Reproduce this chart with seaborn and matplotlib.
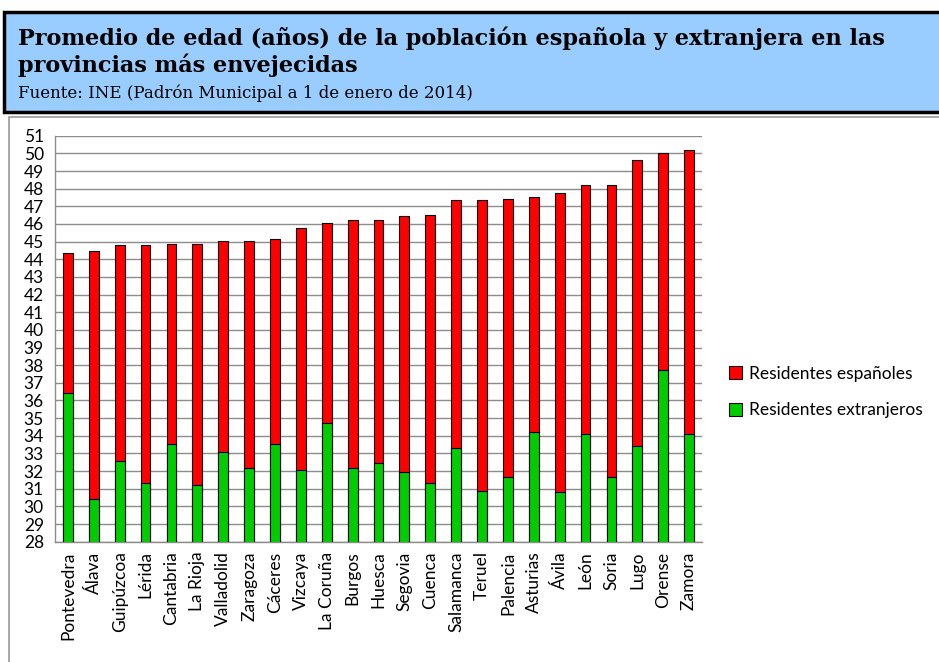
import numpy as np
import pandas as pd
import seaborn as sns
import matplotlib.pyplot as plt
from matplotlib.patches import Rectangle
from matplotlib.ticker import MultipleLocator

# Datos (edad media en años)
provincias = ["Pontevedra", "Álava", "Guipúzcoa", "Lérida", "Cantabria", "La Rioja",
              "Valladolid", "Zaragoza", "Cáceres", "Vizcaya", "La Coruña", "Burgos",
              "Huesca", "Segovia", "Cuenca", "Salamanca", "Teruel", "Palencia",
              "Asturias", "Ávila", "León", "Soria", "Lugo", "Orense", "Zamora"]
espanoles = [44.36, 44.44, 44.78, 44.78, 44.86, 44.86, 45.05, 45.05, 45.14, 45.77,
             46.03, 46.24, 46.24, 46.45, 46.53, 47.36, 47.34, 47.44, 47.50, 47.78,
             48.18, 48.18, 49.64, 50.00, 50.19]
extranjeros = [36.45, 30.41, 32.57, 31.32, 33.54, 31.19, 33.07, 32.16, 33.54, 32.08,
               34.72, 32.16, 32.44, 31.95, 31.32, 33.33, 30.90, 31.66, 34.23, 30.83,
               34.11, 31.66, 33.41, 37.70, 34.11]
series = ["Residentes españoles", "Residentes extranjeros"]
colores = ["#FF0000", "#00CC00"]

df = pd.DataFrame({
    "provincia": provincias * 2,
    "edad": espanoles + extranjeros,
    "serie": [series[0]] * len(provincias) + [series[1]] * len(provincias),
})

sns.set_style("white")
plt.rcParams['font.family'] = ['Lato', 'DejaVu Sans']
plt.rcParams['text.color'] = 'black'

fig = plt.figure(figsize=(9.39, 6.62), dpi=100)

# caja del titulo
fig.patches.append(Rectangle((4 / 939, 1 - 112 / 662), 940 / 939, 100 / 662,
                             transform=fig.transFigure, facecolor="#99CCFF",
                             edgecolor="black", linewidth=2.5, zorder=-2))
# marco del grafico
fig.patches.append(Rectangle((9 / 939, -0.01), 935 / 939, 1 - 117 / 662 + 0.01,
                             transform=fig.transFigure, facecolor="white",
                             edgecolor="#999999", linewidth=1.2, zorder=-2))

fig.text(18 / 939, 1 - 45 / 662,
         "Promedio de edad (años) de la población española y extranjera en las",
         family="DejaVu Serif", weight="bold", fontsize=16.1, va="baseline")
fig.text(18 / 939, 1 - 72 / 662, "provincias más envejecidas",
         family="DejaVu Serif", weight="bold", fontsize=16.1, va="baseline")
fig.text(18 / 939, 1 - 98 / 662, "Fuente: INE (Padrón Municipal a 1 de enero de 2014)",
         family="DejaVu Serif", fontsize=12, va="baseline")

ax = fig.add_axes([55 / 939, 1 - 541.7 / 662, 647 / 939, (541.7 - 135.7) / 662])
ax.set_zorder(2)
sns.barplot(data=df, x="provincia", y="edad", hue="serie", palette=colores,
            saturation=1, dodge=False, width=0.38, edgecolor="black", linewidth=0.8,
            ax=ax, zorder=3)

ax.set_ylim(28, 51)
ax.yaxis.set_major_locator(MultipleLocator(1))
ax.grid(axis="y", color="#8c8c8c", linewidth=1.0, zorder=0)
ax.set_axisbelow(True)
ax.set_xlabel("")
ax.set_ylabel("")
for s in ["top", "right"]:
    ax.spines[s].set_visible(False)
for s in ["left", "bottom"]:
    ax.spines[s].set_color("#8c8c8c")
    ax.spines[s].set_linewidth(1.0)

ax.set_xticks(range(len(provincias)))
ax.set_xticklabels(provincias, rotation=90, fontsize=12.5, color="black")
ax.set_xticks(np.arange(-0.5, len(provincias), 1), minor=True)
ax.tick_params(axis="x", which="major", length=0, pad=7)
ax.tick_params(axis="x", which="minor", length=5, color="#8c8c8c", direction="out")
ax.tick_params(axis="y", length=5, color="#8c8c8c", direction="out", labelsize=12.5,
               labelcolor="black", pad=3)
ax.set_xlim(-0.5, len(provincias) - 0.5)

handles, labels = ax.get_legend_handles_labels()
ax.legend(handles, labels, loc="center left", bbox_to_anchor=(713 / 939, 1 - 392 / 662),
          bbox_transform=fig.transFigure, frameon=False, fontsize=12.5,
          handlelength=0.75, handleheight=0.75, handletextpad=0.45, labelspacing=1.2)

fig.savefig("out.png", dpi=100)
